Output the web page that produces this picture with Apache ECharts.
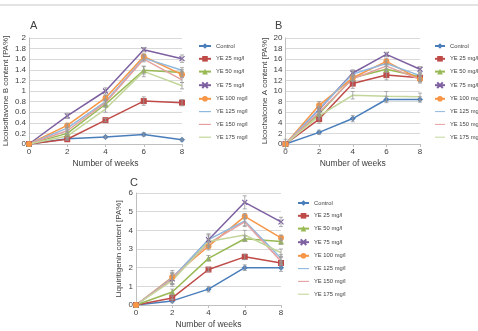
<!DOCTYPE html>
<html>
<head>
<meta charset="utf-8">
<script src="https://cdn.jsdelivr.net/npm/echarts@6/dist/echarts.min.js"></script>
<style>
  html, body { margin: 0; padding: 0; background: #fff; }
  #myChart { width: 478px; height: 331px; }
</style>
</head>
<body>
<div id="myChart"></div>
<script>
// weeks and series names
var weeks = [0, 2, 4, 6, 8];
var names = ['Control', 'YE 25 mg/l', 'YE 50 mg/l', 'YE 75 mg/l', 'YE 100 mg/l', 'YE 125 mg/l', 'YE 150 mg/l', 'YE 175 mg/l'];
var colors = ['#4a7ebb', '#be4b48', '#98b954', '#7d60a0', '#f79646', '#8fb8de', '#e3a1a0', '#c3d69b'];

// A - Licoisoflavone B
var licoB = [
  [0, 0.10, 0.13, 0.18, 0.08],
  [0, 0.09, 0.45, 0.81, 0.78],
  [0, 0.20, 0.75, 1.39, 1.35],
  [0, 0.53, 1.00, 1.78, 1.61],
  [0, 0.35, 0.87, 1.65, 1.31],
  [0, 0.30, 0.80, 1.62, 1.39],
  [0, 0.25, 0.78, 1.60, 1.21],
  [0, 0.15, 0.66, 1.37, 1.10]
];
var licoBErr = [
  [0, 0.02, 0.02, 0.03, 0.02],
  [0, 0.02, 0.03, 0.08, 0.06],
  [0, 0.03, 0.06, 0.07, 0.05],
  [0, 0.05, 0.06, 0.04, 0.07],
  [0, 0.04, 0.05, 0.05, 0.06],
  [0, 0.04, 0.05, 0.05, 0.05],
  [0, 0.03, 0.05, 0.05, 0.05],
  [0, 0.03, 0.06, 0.10, 0.06]
];

// B - Licochalcone A
var licoA = [
  [0, 2.2, 4.8, 8.4, 8.4],
  [0, 4.7, 11.4, 13.0, 12.5],
  [0, 5.7, 12.5, 14.1, 12.7],
  [0, 6.5, 13.4, 16.9, 14.1],
  [0, 7.3, 12.5, 15.6, 12.2],
  [0, 6.6, 13.2, 15.2, 12.9],
  [0, 6.0, 12.3, 14.7, 12.2],
  [0, 5.3, 9.2, 9.0, 8.9]
];
var licoAErr = [
  [0.9, 0.4, 0.6, 0.6, 0.5],
  [0, 0.8, 0.9, 0.9, 0.7],
  [0, 0.6, 0.6, 0.6, 0.6],
  [0, 0.5, 0.6, 0.4, 0.5],
  [0, 0.7, 0.6, 0.6, 0.7],
  [0, 0.5, 0.6, 0.5, 0.6],
  [0, 0.5, 0.5, 0.5, 0.5],
  [0, 0.6, 0.7, 0.9, 0.7]
];

// C - Liquiritigenin
var liqui = [
  [0, 0.22, 0.85, 2.00, 2.00],
  [0, 0.38, 1.90, 2.58, 2.25],
  [0, 0.70, 2.50, 3.55, 3.40],
  [0, 1.40, 3.50, 5.50, 4.45],
  [0, 1.50, 3.15, 4.75, 3.60],
  [0, 1.45, 3.50, 4.50, 2.50],
  [0, 1.40, 3.30, 4.45, 2.35],
  [0, 1.30, 3.40, 3.75, 2.80]
];
var liquiErr = [
  [0, 0.10, 0.15, 0.15, 0.20],
  [0, 0.10, 0.10, 0.15, 0.10],
  [0, 0.15, 0.15, 0.15, 0.15],
  [0, 0.30, 0.30, 0.35, 0.25],
  [0, 0.35, 0.20, 0.15, 0.15],
  [0, 0.30, 0.30, 0.30, 0.20],
  [0, 0.30, 0.20, 0.20, 0.20],
  [0, 0.30, 0.30, 0.25, 0.20]
];

var crossPath = 'path://M0,0L10,10M10,0L0,10';
var dashIcon = 'path://M0,0L20,0L20,2L0,2Z';
var symbols = ['diamond', 'rect', 'triangle', crossPath, 'circle', 'none', 'none', 'none'];
var symbolSizes = [6, 6, 6, 5, 6, 0, 0, 0];

var panels = [
  { key: 'A', data: licoB, err: licoBErr, max: 2, interval: 0.2, title: 'Licoisoflavone B content [PA%]',
    grid: { left: 29, top: 38, width: 153, height: 106 }, legend: { left: 193, top: 38, w: 12 }, label: [30, 20], nameGap: 19 },
  { key: 'B', data: licoA, err: licoAErr, max: 20, interval: 2, title: 'Licochalcone A content [PA%]',
    grid: { left: 285.5, top: 38, width: 134.5, height: 106 }, legend: { left: 429, top: 38, w: 10 }, label: [275, 20], nameGap: 17 },
  { key: 'C', data: liqui, err: liquiErr, max: 6, interval: 1, title: 'Liquiritigenin content [PA%]',
    grid: { left: 136, top: 193, width: 145, height: 112 }, legend: { left: 292, top: 195, w: 11 }, label: [130, 177], nameGap: 13 }
];

var myChart = echarts.init(document.getElementById('myChart'));
var grids = [], xAxes = [], yAxes = [], legends = [], series = [], graphics = [];

// legend entries: plain line for the marker-less series
var legendData = names.map(function(n, si) {
  if (symbolSizes[si] === 0) return { name: n, icon: dashIcon };
  return { name: n };
});

panels.forEach(function(p, gi) {
  grids.push(p.grid);
  xAxes.push({
    type: 'value', gridIndex: gi, min: 0, max: 8, interval: 2,
    name: 'Number of weeks', nameLocation: 'middle', nameGap: 15,
    nameTextStyle: { fontSize: 8.5, color: '#404040', fontFamily: 'Liberation Sans' },
    axisLine: { show: true, lineStyle: { color: '#bfbfbf' } },
    axisTick: { show: true, length: 3, lineStyle: { color: '#bfbfbf' } },
    axisLabel: { fontSize: 8, color: '#404040', margin: 4, fontFamily: 'Liberation Sans' },
    splitLine: { show: false }
  });
  yAxes.push({
    type: 'value', gridIndex: gi, min: 0, max: p.max, interval: p.interval,
    name: p.title, nameLocation: 'middle', nameGap: p.nameGap,
    nameTextStyle: { fontSize: 8, color: '#404040', fontFamily: 'Liberation Sans' },
    axisLine: { show: true, lineStyle: { color: '#bfbfbf' } },
    axisTick: { show: false },
    axisLabel: { fontSize: 8, color: '#404040', margin: 3, fontFamily: 'Liberation Sans' },
    splitLine: { show: true, lineStyle: { color: '#d9d9d9', width: 1 } }
  });
  legends.push({
    orient: 'vertical', left: p.legend.left, top: p.legend.top,
    itemWidth: p.legend.w, itemHeight: 7, itemGap: 6.8,
    data: legendData,
    textStyle: { fontSize: 5.8, color: '#404040', fontFamily: 'Liberation Sans' }
  });
  graphics.push({
    type: 'text', left: p.label[0], top: p.label[1],
    style: { text: p.key, fontSize: 11, fill: '#404040', fontFamily: 'Liberation Sans' }
  });

  names.forEach(function(n, si) {
    var pts = weeks.map(function(w, i) { return [w, p.data[si][i]]; });
    series.push({
      name: n, type: 'line', xAxisIndex: gi, yAxisIndex: gi,
      data: pts,
      color: colors[si],
      symbol: symbols[si], symbolSize: symbolSizes[si],
      showSymbol: symbolSizes[si] > 0,
      lineStyle: { width: 1.5, color: colors[si] },
      itemStyle: si === 3 ? { color: colors[si], borderColor: colors[si], borderWidth: 1.2 } : { color: colors[si] },
      animation: false, z: 3
    });
    var errPts = weeks.map(function(w, i) {
      var v = p.data[si][i], e = p.err[si][i];
      return [w, v - e, v + e];
    }).filter(function(d) { return d[2] - d[1] > 0; });
    series.push({
      type: 'custom', xAxisIndex: gi, yAxisIndex: gi,
      data: errPts, animation: false, z: 4, silent: true,
      renderItem: function(params, api) {
        var lo = api.coord([api.value(0), api.value(1)]);
        var hi = api.coord([api.value(0), api.value(2)]);
        var style = { stroke: '#9a9a9a', lineWidth: 0.8 };
        return {
          type: 'group',
          children: [
            { type: 'line', shape: { x1: lo[0], y1: lo[1], x2: hi[0], y2: hi[1] }, style: style },
            { type: 'line', shape: { x1: lo[0] - 2, y1: lo[1], x2: lo[0] + 2, y2: lo[1] }, style: style },
            { type: 'line', shape: { x1: hi[0] - 2, y1: hi[1], x2: hi[0] + 2, y2: hi[1] }, style: style }
          ]
        };
      }
    });
  });
});

// page header rule
graphics.push({
  type: 'line', shape: { x1: 0, y1: 5, x2: 478, y2: 5 },
  style: { stroke: '#c8c8c8', lineWidth: 1 }
});

var option = {
  backgroundColor: '#ffffff',
  animation: false,
  grid: grids,
  xAxis: xAxes,
  yAxis: yAxes,
  legend: legends,
  series: series,
  graphic: graphics
};
myChart.setOption(option, true);
</script>
</body>
</html>
